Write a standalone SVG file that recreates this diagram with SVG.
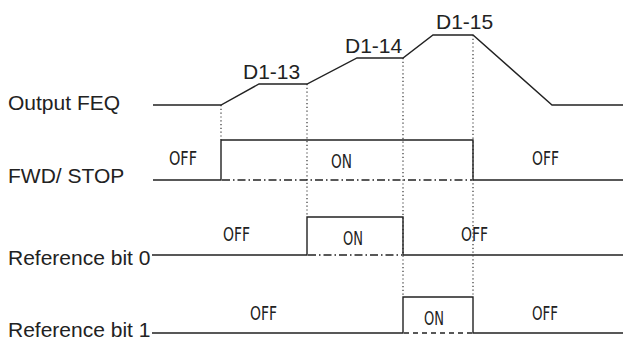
<svg xmlns="http://www.w3.org/2000/svg" width="623" height="341" viewBox="0 0 623 341">
<style>
.lbl{font-family:"Liberation Sans",Arial,sans-serif;font-size:21px;fill:#222}
.st{font-family:"Liberation Sans Narrow","DejaVu Sans Condensed",sans-serif;font-size:19px;fill:#222}
.w{fill:none;stroke:#222;stroke-width:1.4}
.dot{fill:none;stroke:#333;stroke-width:1.2;stroke-dasharray:1.2 2.6}
.dd{fill:none;stroke:#222;stroke-width:1.3;stroke-dasharray:8 3 1.5 3}
.da{fill:none;stroke:#222;stroke-width:1.3;stroke-dasharray:5 4}
</style>
<rect width="623" height="341" fill="#fff"/>
<g id="labels">
<text class="lbl" x="8" y="110">Output FEQ</text>
<text class="lbl" x="8" y="183">FWD/ STOP</text>
<text class="lbl" x="8" y="265">Reference bit 0</text>
<text class="lbl" x="8" y="337">Reference bit 1</text>
</g>
<g id="connectors">
<path class="dot" d="M221 105V140M307 84V217M403 58V297M473 35V297"/>
</g>
<g id="output-feq">
<path class="w" d="M153 105H221L259 84H307L357 58H403L433 35H473L552 105H623"/>
<text class="lbl" x="243" y="79">D1-13</text>
<text class="lbl" x="345" y="53">D1-14</text>
<text class="lbl" x="436" y="29">D1-15</text>
</g>
<g id="fwd-stop">
<path class="w" d="M153 180H221V140H473V180H623"/>
<path class="dd" d="M222 180H472"/>
<text class="st" x="169" y="165" textLength="28" lengthAdjust="spacingAndGlyphs">OFF</text>
<text class="st" x="331" y="168" textLength="21" lengthAdjust="spacingAndGlyphs">ON</text>
<text class="st" x="532" y="165" textLength="27" lengthAdjust="spacingAndGlyphs">OFF</text>
</g>
<g id="ref-bit-0">
<path class="w" d="M152 255H307V217H403V255H623"/>
<path class="dd" d="M308 255H402"/>
<text class="st" x="223" y="241" textLength="27" lengthAdjust="spacingAndGlyphs">OFF</text>
<text class="st" x="343" y="245" textLength="20" lengthAdjust="spacingAndGlyphs">ON</text>
<text class="st" x="461" y="241" textLength="27" lengthAdjust="spacingAndGlyphs">OFF</text>
</g>
<g id="ref-bit-1">
<path class="w" d="M152 333H403V297H473V333H623"/>
<path class="da" d="M404 333H472"/>
<text class="st" x="250" y="320" textLength="27" lengthAdjust="spacingAndGlyphs">OFF</text>
<text class="st" x="424" y="325" textLength="20" lengthAdjust="spacingAndGlyphs">ON</text>
<text class="st" x="532" y="320" textLength="26" lengthAdjust="spacingAndGlyphs">OFF</text>
</g>
</svg>
